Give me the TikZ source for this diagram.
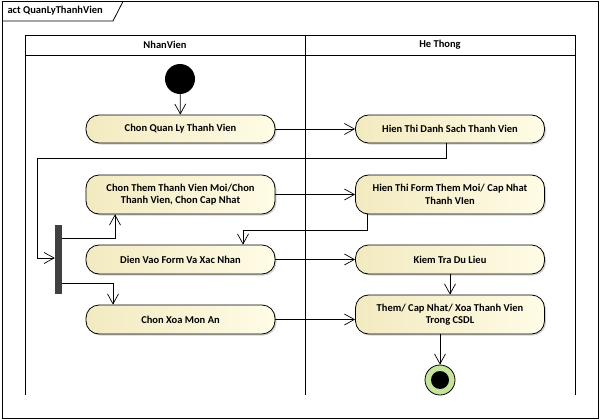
\documentclass[tikz,border=0pt]{standalone}
\usepackage{fontspec}
\setmainfont{Carlito}
\usetikzlibrary{arrows.meta,shadows,positioning}
\definecolor{actL}{HTML}{F2EAC0}
\definecolor{actR}{HTML}{FFFCE6}
\definecolor{endg}{HTML}{C5E39A}
\tikzset{
  action/.style={draw=black, line width=0.8pt, rounded corners=13pt, left color=actL, right color=actR,
    minimum width=189pt, align=center, inner sep=0pt,
    font=\fontsize{10.5}{12.5}\selectfont\bfseries,
    drop shadow={shadow xshift=1.5pt, shadow yshift=-1.5pt, fill=black!35, opacity=0.5}},
  flow/.style={line width=0.7pt, -{Straight Barb[length=10pt,width=11pt,line width=0.7pt]}},
  lane/.style={line width=0.8pt},
  hdr/.style={font=\fontsize{10.5}{12}\selectfont\bfseries}
}
\begin{document}
\begin{tikzpicture}[x=1pt,y=-1pt]
\useasboundingbox (0,0) rectangle (600,420);
% frame
\draw[line width=0.8pt] (2,1.5) rectangle (598,418);
\draw[line width=0.8pt] (2,21) -- (113,21) -- (123,1.5);
\node[anchor=west, font=\fontsize{10.5}{12}\selectfont\bfseries] (title) at (4,11) {act QuanLyThanhVien};
% swimlanes
\draw[lane] (25,395) -- (25,35) -- (575,35) -- (575,395);
\draw[lane] (25,55) -- (575,55);
\draw[lane] (305,35) -- (305,395);
\node[hdr] (h1) at (165,45) {NhanVien};
\node[hdr] (h2) at (440,45) {He Thong};
% initial
\node[circle, fill=black, minimum size=30pt, inner sep=0pt] (init) at (180,79) {};
% actions
\node[action, minimum height=28pt] (a1) at (180.5,129) {Chon Quan Ly Thanh Vien};
\node[action, minimum height=28pt] (b1) at (450,129) {Hien Thi Danh Sach Thanh Vien};
\node[action, minimum height=39pt] (a2) at (180.5,194.5) {Chon Them Thanh Vien Moi/Chon\\Thanh Vien, Chon Cap Nhat};
\node[action, minimum height=39pt] (b2) at (450,194.5) {Hien Thi Form Them Moi/ Cap Nhat\\Thanh VIen};
\node[action, minimum height=29pt] (a3) at (180.5,259.5) {Dien Vao Form Va Xac Nhan};
\node[action, minimum height=29pt] (b3) at (450,259.5) {Kiem Tra Du Lieu};
\node[action, minimum height=29pt] (a4) at (180.5,319.5) {Chon Xoa Mon An};
\node[action, minimum height=39pt] (b4) at (450,314.5) {Them/ Cap Nhat/ Xoa Thanh Vien\\Trong CSDL};
% fork bar
\node[fill=black!75, minimum width=7pt, minimum height=69pt, inner sep=0pt] (fork) at (58.5,259.5) {};
% final
\node[circle, draw=black, line width=0.8pt, fill=endg, minimum size=30pt, inner sep=0pt] (fin) at (440,380) {};
\node[circle, fill=black, minimum size=18pt, inner sep=0pt] (finin) at (fin) {};
% flows
\draw[flow] (init) -- (a1);
\draw[flow] (a1) -- (b1);
\draw[flow] (b1.south -| 446,0) |- (37,158) |- (fork.west |- 0,258);
\draw[flow] (fork.east |- 0,238) -| (a2.south -| 115,0);
\draw[flow] (fork.east |- 0,283) -| (a4.north -| 113,0);
\draw[flow] (a2) -- (b2);
\draw[flow] (b2.south -| 367,0) |- (243,230) -- (a3.north -| 243,0);
\draw[flow] (a3) -- (b3);
\draw[flow] (b3) -- (b4);
\draw[flow] (a4.east) -- (b4.west |- a4.east);
\draw[flow] (b4.south -| fin.north) -- (fin);
\end{tikzpicture}
\end{document}
